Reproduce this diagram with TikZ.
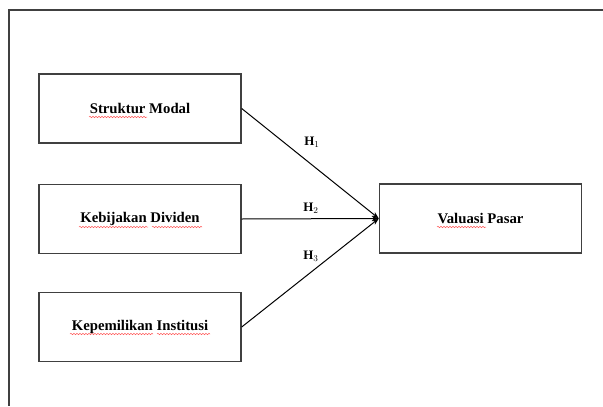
\documentclass[tikz,border=0pt]{standalone}
\usepackage{fontspec}
\setmainfont{Liberation Serif}
\usetikzlibrary{arrows.meta,decorations.pathmorphing}
\begin{document}
\begin{tikzpicture}[x=1bp,y=1bp,
  kotak/.style={draw=black!75,line width=1.4bp,minimum width=202bp,minimum height=69bp,inner sep=0pt,
    font=\fontsize{14.8}{17}\selectfont\bfseries},
  panah/.style={line width=1bp,-{Stealth[length=7bp,width=5bp]}},
  hlabel/.style={font=\fontsize{13}{15}\selectfont\bfseries},
  ejaan/.style={red!65,line width=0.5bp,decorate,decoration={snake,amplitude=0.7bp,segment length=3bp}}]
\useasboundingbox (0,0) rectangle (603,406);
% bingkai
\draw[black!75,line width=1.8bp] (603,396) -- (9,396) -- (9,0);
% variabel
\node[kotak] (sm) at (140,297.5) {Struktur Modal};
\node[kotak] (kd) at (140,187) {Kebijakan Dividen};
\node[kotak] (ki) at (140,79) {Kepemilikan Institusi};
\node[kotak] (vp) at (480.5,187.5) {Valuasi Pasar};
% hipotesis
\draw[panah] (sm.east) -- (vp.west);
\draw[panah] (kd.east) -- (vp.west);
\draw[panah] (ki.east) -- (vp.west);
\node[hlabel] (h1) at (312,264) {H$_1$};
\node[hlabel] (h2) at (311,198) {H$_2$};
\node[hlabel] (h3) at (311,150) {H$_3$};
% garis ejaan
\draw[ejaan] (89,289) -- (147,289);
\draw[ejaan] (79,179) -- (148,179);
\draw[ejaan] (152,179) -- (202,179);
\draw[ejaan] (437,179) -- (486,179);
\draw[ejaan] (70,72) -- (153,72);
\draw[ejaan] (157,72) -- (210,72);
\end{tikzpicture}
\end{document}
